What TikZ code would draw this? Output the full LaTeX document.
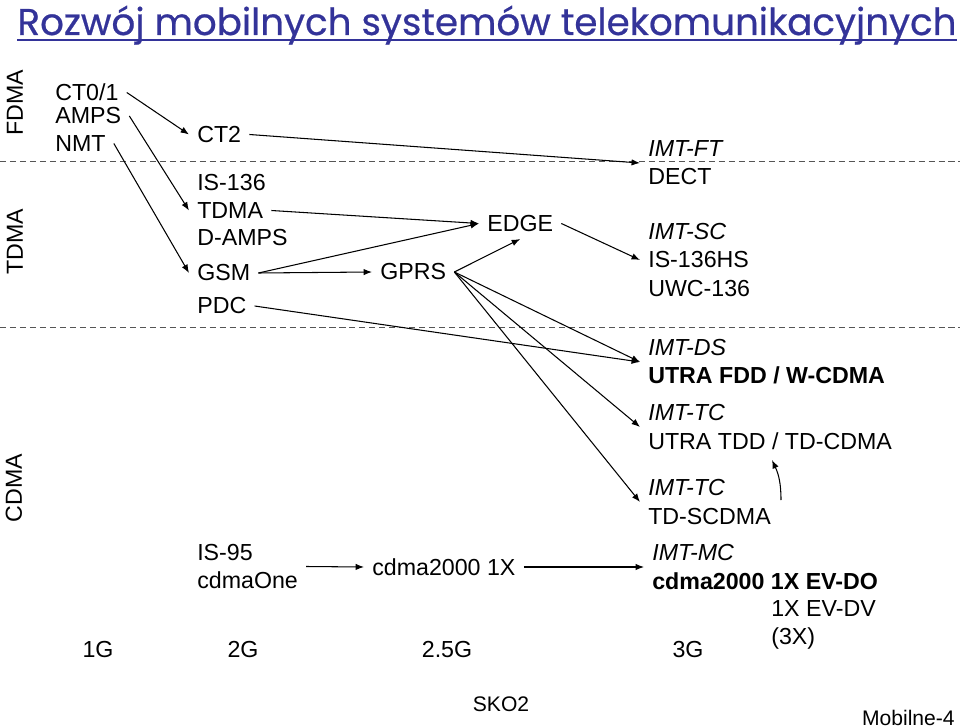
\documentclass[tikz,border=0pt]{standalone}
\usepackage{fontspec}
\setmainfont{Liberation Sans}
\newfontfamily\titlefont[FakeBold=0.6]{Poppins}
\usetikzlibrary{positioning,arrows.meta}
\definecolor{titleblue}{RGB}{51,51,153}
\definecolor{sepgray}{RGB}{85,85,85}

\begin{document}
\begin{tikzpicture}[
  x=0.025cm, y=-0.025cm,
  every node/.style={font=\fontsize{16.5}{20}\selectfont},
  sys/.style={anchor=west, inner xsep=5.7pt, inner ysep=5pt, align=left},
  era/.style={inner sep=0pt},
  side/.style={inner sep=0pt, rotate=90},
  arr/.style={-{Latex[length=6pt,width=4.6pt]}, line width=0.75pt},
  separator/.style={draw=sepgray, line width=0.7pt, dash pattern=on 4.3pt off 2.8pt}
]
  \useasboundingbox (0,0) rectangle (960,728);

  % title
  \node[inner sep=0pt, anchor=base, text=titleblue,
        font=\titlefont\fontsize{26.5}{30}\selectfont] (title) at (487,35)
        {Rozwój mobilnych systemów telekomunikacyjnych};
  \draw[titleblue, line width=1.1pt] ([yshift=-3.6pt]title.base west) -- ([yshift=-3.6pt]title.base east);

  % separators
  \draw[separator] (0,161) -- (960,161);
  \draw[separator] (0,327) -- (960,327);

  % access methods
  \node[side] (sidefdma) at (15,103) {FDMA};
  \node[side] (sidetdma) at (15,242) {TDMA};
  \node[side] (sidecdma) at (14,488) {CDMA};

  % 1G
  \node[sys] (ct01) at (47,92.5)  {CT0/1};
  \node[sys] (amps) at (47,116)   {AMPS};
  \node[sys] (nmt)  at (47,143.5) {NMT};

  % 2G
  \node[sys] (ct2)   at (189,134.5) {CT2};
  \node[sys] (is136) at (189,182.5) {IS-136};
  \node[sys] (tdma)  at (189,210.5) {TDMA};
  \node[sys] (damps) at (189,238)   {D-AMPS};
  \node[sys] (gsm)   at (189,273)   {GSM};
  \node[sys] (pdc)   at (189,306)   {PDC};
  \node[sys] (is95)  at (189,566.5) {IS-95\\cdmaOne};

  % 2.5G
  \node[sys] (edge)  at (479,223.5) {EDGE};
  \node[sys] (gprs)  at (372,272)   {GPRS};
  \node[sys] (cdma)  at (364,567)   {cdma2000 1X};

  % 3G
  \node[sys] (imtft)    at (640,163) {\textit{IMT-FT}\\DECT};
  \node[sys] (imtsc)    at (640,260) {\textit{IMT-SC}\\IS-136HS\\UWC-136};
  \node[sys] (imtds)    at (640,362) {\textit{IMT-DS}\\\textbf{UTRA FDD / W-CDMA}};
  \node[sys] (imttdd)   at (640,427) {\textit{IMT-TC}\\UTRA TDD / TD-CDMA};
  \node[sys] (imtscdma) at (640,502) {\textit{IMT-TC}\\TD-SCDMA};
  \node[sys] (imtmc)    at (644,567) {\textit{IMT-MC}\\\textbf{cdma2000 1X EV-DO}};
  \node[sys] (evdv)     at (763,625) {1X EV-DV\\(3X)};

  % generations
  \node[era] (gen1)  at (98,649.5)  {1G};
  \node[era] (gen2)  at (243,649.5) {2G};
  \node[era] (gen25) at (447,649.5) {2.5G};
  \node[era] (gen3)  at (688,649.5) {3G};

  % footer
  \node[era, font=\fontsize{15}{18}\selectfont] (course) at (501,704) {SKO2};
  \node[era, anchor=east, font=\fontsize{15}{18}\selectfont] (slide) at (955,718) {Mobilne-4};

  % evolution
  \draw[arr] (ct01.east) -- (ct2.west);
  \draw[arr] (amps.east) -- (tdma.west);
  \draw[arr] (nmt.east)  -- (gsm.west);
  \draw[arr] (ct2.east)  -- (imtft.west);
  \draw[arr] (tdma.east) -- (edge.west);
  \draw[arr] (gsm.east)  -- (edge.west);
  \draw[arr] (gsm.east)  -- (gprs.west);
  \draw[arr] (gprs.east) -- (edge.south);
  \draw[arr] (edge.east) -- (imtsc.west);
  \draw[arr] (pdc.east)  -- (imtds.west);
  \draw[arr] (gprs.east) -- (imtds.west);
  \draw[arr] (gprs.east) -- (imttdd.west);
  \draw[arr] (gprs.east) -- (imtscdma.west);
  \draw[arr] (is95.east) -- (cdma.west);
  \draw[arr] (cdma.east) -- (imtmc.west);

  \coordinate (scdmaup) at (781,500);
  \coordinate (tddlow)  at (772,460);
  \draw[arr] (scdmaup) to[out=90, in=-65] (tddlow);
\end{tikzpicture}
\end{document}
